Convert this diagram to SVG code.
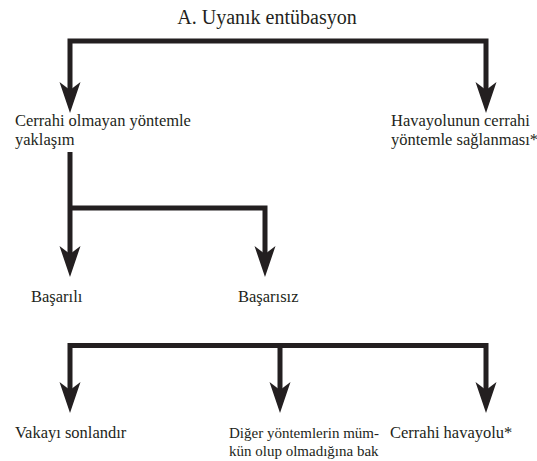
<svg xmlns="http://www.w3.org/2000/svg" width="537" height="461" viewBox="0 0 537 461">
<style>
text{font-family:"Liberation Serif","Times New Roman",serif;fill:#231f20;font-size:16.5px}
.title{font-size:20px}
.sm{font-size:15px}
.c{fill:none;stroke:#231f20;stroke-width:5;stroke-linejoin:miter;stroke-linecap:butt}
</style>
<defs>
<marker id="ah" markerUnits="userSpaceOnUse" orient="auto-start-reverse" refX="0" refY="0" markerWidth="40" markerHeight="30" overflow="visible">
<path d="M20,0 L-11,-10.5 L-3,0 L-11,10.5 Z" fill="#231f20"/>
</marker>
</defs>
<rect width="537" height="461" fill="#ffffff"/>
<g id="connectors">
<path class="c" d="M70,93 V41 H486 V93" marker-start="url(#ah)" marker-end="url(#ah)"/>
<path class="c" d="M70,152 V257" marker-end="url(#ah)"/>
<path class="c" d="M70,208 H265 V257" marker-end="url(#ah)"/>
<path class="c" d="M70,393 V345.5 H486 V393" marker-start="url(#ah)" marker-end="url(#ah)"/>
<path class="c" d="M280,345.5 V393" marker-end="url(#ah)"/>
</g>
<g id="title"><text class="title" x="267" y="24" text-anchor="middle">A. Uyanık entübasyon</text></g>
<g id="n1"><text x="15" y="126">Cerrahi olmayan yöntemle</text><text x="15" y="145">yaklaşım</text></g>
<g id="n2"><text x="391" y="126">Havayolunun cerrahi</text><text x="391" y="145">yöntemle sağlanması*</text></g>
<g id="n3"><text x="31" y="302">Başarılı</text></g>
<g id="n4"><text x="238" y="302">Başarısız</text></g>
<g id="n5"><text x="15" y="438">Vakayı sonlandır</text></g>
<g id="n6"><text class="sm" x="229" y="438">Diğer yöntemlerin müm-</text><text class="sm" x="229" y="456">kün olup olmadığına bak</text></g>
<g id="n7"><text x="390" y="438">Cerrahi havayolu*</text></g>
</svg>
